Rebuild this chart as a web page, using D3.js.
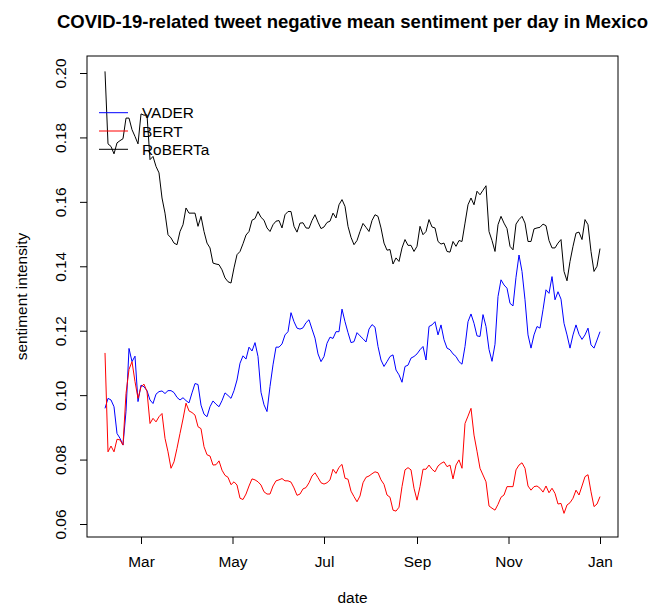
<!DOCTYPE html>
<html>
<head>
<meta charset="utf-8">
<script src="https://cdn.jsdelivr.net/npm/d3@7/dist/d3.min.js"></script>
<style>
  html, body { margin: 0; padding: 0; background: #fff; }
  svg { display: block; font-family: "Liberation Sans", Arial, Helvetica, sans-serif; }
</style>
</head>
<body>
<svg id="chart" width="651" height="608"></svg>
<script>
// Mean negative sentiment per day, sampled every second day from 2020-02-06
const startDate = "2020-02-06";
const stepDays = 2;

const roberta = [
  0.2005,0.178,0.1772,0.1749,0.1783,0.179,0.1796,0.186,0.186,0.1824,
  0.1803,0.178,0.1873,0.1869,0.187,0.1731,0.1741,0.171,0.169,0.1612,
  0.1565,0.1498,0.1488,0.1472,0.1467,0.1508,0.1529,0.1581,0.1565,0.1565,
  0.1565,0.1524,0.1555,0.1508,0.1472,0.1457,0.141,0.1407,0.1405,0.1389,
  0.1364,0.1352,0.1348,0.1395,0.1436,0.1446,0.147,0.1497,0.1508,0.1543,
  0.1548,0.157,0.1552,0.1543,0.1519,0.1508,0.1529,0.154,0.1542,0.1519,
  0.156,0.157,0.157,0.1524,0.1506,0.1534,0.1535,0.1519,0.1518,0.1542,
  0.156,0.1537,0.1517,0.1522,0.1536,0.154,0.1565,0.155,0.1591,0.1607,
  0.1586,0.1524,0.149,0.1467,0.148,0.1508,0.1533,0.1521,0.1508,0.1542,
  0.156,0.1555,0.1519,0.1472,0.145,0.1452,0.1407,0.1426,0.1415,0.1457,
  0.1483,0.1465,0.1465,0.1446,0.1462,0.1524,0.1498,0.1508,0.1545,0.1522,
  0.1519,0.1477,0.1469,0.1472,0.1446,0.1444,0.1477,0.1462,0.148,0.1477,
  0.1534,0.1591,0.1612,0.1591,0.1633,0.1622,0.1636,0.165,0.1508,0.148,
  0.1446,0.1529,0.1555,0.1534,0.1517,0.1462,0.1451,0.1531,0.1545,0.1555,
  0.1534,0.1477,0.1477,0.1516,0.1519,0.1521,0.1531,0.1526,0.148,0.1457,
  0.1457,0.1472,0.1483,0.1384,0.1355,0.1415,0.1462,0.1503,0.1506,0.1483,
  0.1545,0.1529,0.1446,0.1384,0.140,0.1455
];

const vader = [
  0.0959,0.099,0.0985,0.0964,0.0881,0.0866,0.0845,0.095,0.1145,0.1104,
  0.1121,0.098,0.1031,0.1026,0.1014,0.0985,0.0974,0.1003,0.1011,0.1013,
  0.1005,0.1014,0.1014,0.1008,0.0993,0.0985,0.0992,0.0983,0.0976,0.1007,
  0.1036,0.1033,0.0969,0.0941,0.0933,0.0964,0.0982,0.0972,0.0964,0.0983,
  0.1007,0.0999,0.099,0.1014,0.1047,0.1099,0.1122,0.1112,0.1149,0.1137,
  0.1163,0.112,0.1009,0.097,0.0949,0.1027,0.1094,0.1149,0.1149,0.1159,
  0.1187,0.1197,0.1256,0.1228,0.1208,0.1205,0.1209,0.1225,0.1234,0.1205,
  0.1177,0.1128,0.1104,0.112,0.1161,0.118,0.1176,0.1197,0.1197,0.1267,
  0.1228,0.1194,0.1163,0.1166,0.1194,0.1184,0.1175,0.1165,0.1205,0.1219,
  0.1211,0.1151,0.1109,0.1089,0.1104,0.112,0.1125,0.1078,0.1063,0.104,
  0.1089,0.1093,0.1115,0.112,0.1128,0.1141,0.1151,0.1109,0.1213,0.1218,
  0.1228,0.1187,0.1218,0.1172,0.1146,0.1141,0.1128,0.112,0.1104,0.1096,
  0.1151,0.1228,0.1252,0.1223,0.1184,0.1182,0.125,0.1213,0.1142,0.1105,
  0.1158,0.1306,0.1358,0.1342,0.1332,0.1285,0.1277,0.1366,0.1435,0.1384,
  0.1296,0.1187,0.1146,0.1187,0.1213,0.1208,0.1265,0.1327,0.1316,0.1368,
  0.1296,0.1321,0.1298,0.1223,0.1187,0.1146,0.1187,0.1218,0.1189,0.1173,
  0.1187,0.1208,0.1156,0.1146,0.1171,0.1197
];

const bert = [
  0.1131,0.0824,0.0842,0.0824,0.0863,0.0861,0.0845,0.1005,0.108,0.1104,
  0.1042,0.099,0.1026,0.1034,0.1011,0.0912,0.0928,0.0917,0.0933,0.0943,
  0.0866,0.0824,0.0773,0.0793,0.0835,0.0881,0.0926,0.0975,0.0951,0.0946,
  0.0938,0.0902,0.0896,0.084,0.0815,0.0811,0.0783,0.0784,0.0796,0.0767,
  0.0751,0.0745,0.0722,0.0731,0.0721,0.068,0.0676,0.0693,0.0718,0.074,
  0.0737,0.0731,0.0721,0.07,0.0693,0.0693,0.0718,0.0734,0.0737,0.0741,
  0.0734,0.0734,0.073,0.0712,0.0689,0.0693,0.0709,0.0713,0.0728,0.0749,
  0.0759,0.0744,0.0728,0.0724,0.0728,0.0737,0.077,0.0757,0.0776,0.0785,
  0.0742,0.0739,0.0702,0.0685,0.0669,0.0687,0.0728,0.0745,0.0749,0.0756,
  0.0762,0.0759,0.0737,0.0723,0.069,0.0683,0.0643,0.064,0.0652,0.0716,
  0.0768,0.0775,0.0768,0.0711,0.0674,0.0716,0.077,0.077,0.0783,0.077,
  0.0762,0.078,0.0788,0.0793,0.0778,0.0783,0.074,0.0783,0.0799,0.0773,
  0.0912,0.0935,0.0959,0.0876,0.0826,0.0773,0.0752,0.0731,0.0656,0.0649,
  0.0643,0.0661,0.0683,0.069,0.0716,0.0716,0.0716,0.0768,0.0783,0.079,
  0.0773,0.0718,0.0705,0.0716,0.0718,0.0711,0.0699,0.0718,0.0697,0.0711,
  0.0695,0.0662,0.0664,0.0633,0.0659,0.0666,0.068,0.0705,0.069,0.0718,
  0.0747,0.0753,0.07,0.0654,0.0662,0.0685
];

const seriesNames = ["VADER", "BERT", "RoBERTa"];
const seriesColors = ["#0000ff", "#ff0000", "#000000"];

const yTicks = [0.06, 0.08, 0.10, 0.12, 0.14, 0.16, 0.18, 0.20];
const xTickDates = ["2020-03-01", "2020-05-01", "2020-07-01", "2020-09-01", "2020-11-01", "2021-01-01"];
const xTickLabels = ["Mar", "May", "Jul", "Sep", "Nov", "Jan"];

const titleText = "COVID-19-related tweet negative mean sentiment per day in Mexico";
const xTitle = "date";
const yTitle = "sentiment intensity";

// ---- layout ----
const box = { left: 87, right: 618, top: 56, bottom: 537 };
const parse = d3.utcParse("%Y-%m-%d");
const t0 = parse(startDate);
const dates = roberta.map((_, i) => d3.utcDay.offset(t0, i * stepDays));

const x = d3.scaleUtc()
  .domain([t0, dates[dates.length - 1]])
  .range([105, 600]);
const y = d3.scaleLinear()
  .domain([0.06, 0.20])
  .range([524, 73]);

const svg = d3.select("#chart");
const FONT = 15.4;

// series lines
const line = d3.line()
  .x((d, i) => x(dates[i]))
  .y(d => y(d));

const drawOrder = [[roberta, 2], [vader, 0], [bert, 1]];
drawOrder.forEach(([vals, k]) => {
  svg.append("path")
    .datum(vals)
    .attr("fill", "none")
    .attr("stroke", seriesColors[k])
    .attr("stroke-width", 1)
    .attr("stroke-linejoin", "round")
    .attr("d", line);
});

// frame
svg.append("rect")
  .attr("x", box.left).attr("y", box.top)
  .attr("width", box.right - box.left).attr("height", box.bottom - box.top)
  .attr("fill", "none").attr("stroke", "#000").attr("stroke-width", 1);

// x axis
const xAxis = d3.axisBottom(x)
  .tickValues(xTickDates.map(parse))
  .tickFormat((d, i) => xTickLabels[i])
  .tickSize(7).tickSizeOuter(0);
const gx = svg.append("g")
  .attr("transform", `translate(0,${box.bottom})`)
  .call(xAxis);
gx.select(".domain").remove();
gx.selectAll("line").attr("stroke", "#000");
gx.selectAll("text")
  .attr("y", 30).attr("dy", 0)
  .attr("fill", "#000")
  .style("font-size", FONT + "px")
  .style("font-family", "Liberation Sans, Arial, sans-serif");

// y axis with vertical labels
const yAxis = d3.axisLeft(y)
  .tickValues(yTicks)
  .tickFormat(d3.format(".2f"))
  .tickSize(7).tickSizeOuter(0);
const gy = svg.append("g")
  .attr("transform", `translate(${box.left},0)`)
  .call(yAxis);
gy.select(".domain").remove();
gy.selectAll("line").attr("stroke", "#000");
gy.selectAll("text")
  .attr("transform", "rotate(-90)")
  .attr("x", 0).attr("y", -21).attr("dy", 0)
  .attr("text-anchor", "middle")
  .attr("fill", "#000")
  .style("font-size", FONT + "px")
  .style("font-family", "Liberation Sans, Arial, sans-serif");

// titles
svg.append("text")
  .attr("x", (box.left + box.right) / 2).attr("y", 28)
  .attr("text-anchor", "middle")
  .style("font-size", "18.5px").style("font-weight", "bold")
  .text(titleText);

svg.append("text")
  .attr("x", (box.left + box.right) / 2).attr("y", 603)
  .attr("text-anchor", "middle")
  .style("font-size", FONT + "px")
  .text(xTitle);

svg.append("text")
  .attr("transform", `translate(27,${(box.top + box.bottom) / 2}) rotate(-90)`)
  .attr("text-anchor", "middle")
  .style("font-size", FONT + "px")
  .text(yTitle);

// legend
const legend = svg.append("g");
seriesNames.forEach((name, k) => {
  const ly = 112.7 + k * 18.3;
  legend.append("line")
    .attr("x1", 99).attr("x2", 128)
    .attr("y1", ly).attr("y2", ly)
    .attr("stroke", seriesColors[k]).attr("stroke-width", 1);
  legend.append("text")
    .attr("x", 142).attr("y", ly + 5.5)
    .style("font-size", FONT + "px")
    .text(name);
});
</script>
</body>
</html>
